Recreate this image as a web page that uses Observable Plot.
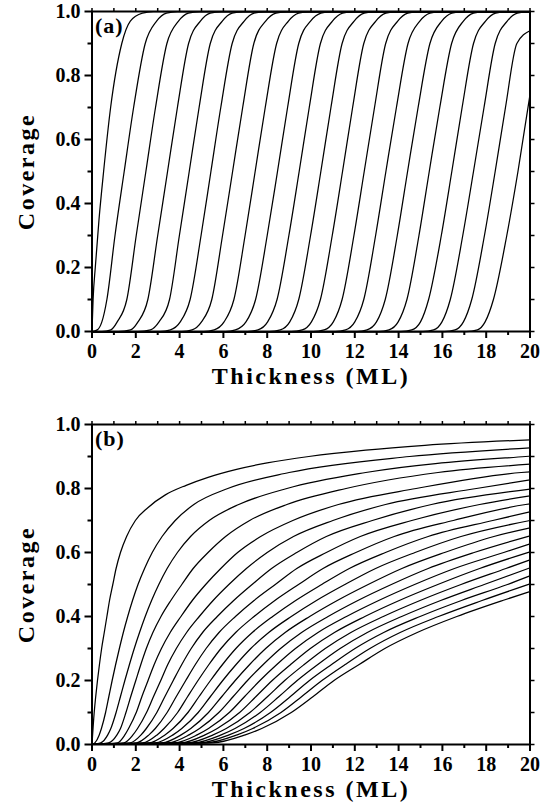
<!DOCTYPE html>
<html>
<head>
<meta charset="utf-8">
<script src="https://cdn.jsdelivr.net/npm/d3@7"></script>
<script src="https://cdn.jsdelivr.net/npm/@observablehq/plot@0.6"></script>
<style>
  html, body { margin: 0; padding: 0; background: #fff; }
  #chart svg { display: block; }
</style>
</head>
<body>
<div id="chart"></div>
<script>
// ---------- Panel (a): [thickness, coverage] points read per layer curve ----------
const layerA1  = [[0,0],[0.05,0.1],[0.15,0.2],[0.32,0.35],[0.53,0.5],[0.85,0.7],[1.36,0.9],[1.75,0.97],[2.3,0.995],[2.8,1],[20,1]];
const layerA2  = [[0,0],[0.24,0.005],[0.45,0.03],[0.68,0.1],[1.05,0.3],[1.47,0.5],[1.9,0.7],[2.43,0.9],[2.95,0.97],[3.4,0.995],[3.9,1],[20,1]];
const layerA3  = [[0,0],[0.45,0],[0.86,0.005],[1.15,0.03],[1.59,0.1],[2.02,0.3],[2.46,0.5],[2.9,0.7],[3.42,0.9],[3.95,0.97],[4.4,0.995],[4.9,1],[20,1]];
const layerA4  = [[0,0],[1.2,0],[1.76,0.005],[2.1,0.03],[2.55,0.1],[3.0,0.3],[3.45,0.5],[3.9,0.7],[4.41,0.9],[4.95,0.97],[5.4,0.995],[5.9,1],[20,1]];
const layerA5  = [[0,0],[2.1,0],[2.67,0.005],[3.06,0.03],[3.54,0.1],[3.99,0.3],[4.44,0.5],[4.89,0.7],[5.4,0.9],[5.95,0.97],[6.4,0.995],[6.9,1],[20,1]];
const layerA6  = [[0,0],[3.1,0],[3.58,0.005],[4.03,0.03],[4.48,0.1],[4.98,0.3],[5.43,0.5],[5.88,0.7],[6.4,0.9],[6.95,0.97],[7.4,0.995],[7.9,1],[20,1]];
const layerA7  = [[0,0],[4.1,0],[4.57,0.005],[5.0,0.03],[5.47,0.1],[5.96,0.3],[6.42,0.5],[6.88,0.7],[7.39,0.9],[7.93,0.97],[8.4,0.995],[8.9,1],[20,1]];
const layerA8  = [[0,0],[5.1,0],[5.58,0.005],[6.03,0.03],[6.48,0.1],[6.99,0.3],[7.45,0.5],[7.91,0.7],[8.43,0.9],[8.97,0.97],[9.43,0.995],[9.9,1],[20,1]];
const layerA9  = [[0,0],[6.1,0],[6.55,0.005],[7.03,0.03],[7.47,0.1],[8.0,0.3],[8.47,0.5],[8.93,0.7],[9.44,0.9],[9.98,0.97],[10.45,0.995],[10.9,1],[20,1]];
const layerA10 = [[0,0],[7.1,0],[7.58,0.005],[8.02,0.03],[8.45,0.1],[8.99,0.3],[9.46,0.5],[9.92,0.7],[10.43,0.9],[10.98,0.97],[11.44,0.995],[11.9,1],[20,1]];
const layerA11 = [[0,0],[8.1,0],[8.6,0.005],[9.03,0.03],[9.44,0.1],[9.98,0.3],[10.45,0.5],[10.91,0.7],[11.42,0.9],[11.97,0.97],[12.43,0.995],[12.9,1],[20,1]];
const layerA12 = [[0,0],[9.1,0],[9.6,0.005],[10.02,0.03],[10.43,0.1],[10.97,0.3],[11.44,0.5],[11.9,0.7],[12.41,0.9],[12.96,0.97],[13.42,0.995],[13.9,1],[20,1]];
const layerA13 = [[0,0],[10.1,0],[10.6,0.005],[11.02,0.03],[11.42,0.1],[11.96,0.3],[12.43,0.5],[12.9,0.7],[13.41,0.9],[13.96,0.97],[14.42,0.995],[14.9,1],[20,1]];
const layerA14 = [[0,0],[11.1,0],[11.58,0.005],[12.0,0.03],[12.41,0.1],[12.95,0.3],[13.42,0.5],[13.9,0.7],[14.43,0.9],[14.97,0.97],[15.43,0.995],[15.9,1],[20,1]];
const layerA15 = [[0,0],[12.1,0],[12.56,0.005],[12.99,0.03],[13.39,0.1],[13.94,0.3],[14.41,0.5],[14.89,0.7],[15.43,0.9],[15.97,0.97],[16.43,0.995],[16.9,1],[20,1]];
const layerA16 = [[0,0],[13.1,0],[13.56,0.005],[13.98,0.03],[14.38,0.1],[14.93,0.3],[15.4,0.5],[15.88,0.7],[16.42,0.9],[16.96,0.97],[17.42,0.995],[17.9,1],[20,1]];
const layerA17 = [[0,0],[14.1,0],[14.6,0.005],[15.0,0.03],[15.37,0.1],[15.95,0.3],[16.43,0.5],[16.9,0.7],[17.42,0.9],[17.97,0.97],[18.43,0.995],[18.9,1],[20,1]];
const layerA18 = [[0,0],[15.1,0],[15.6,0.005],[15.98,0.03],[16.36,0.1],[16.93,0.3],[17.42,0.5],[17.9,0.7],[18.41,0.9],[18.96,0.97],[19.42,0.995],[19.9,1],[20,1]];
const layerA19 = [[0,0],[16.1,0],[16.58,0.005],[16.96,0.03],[17.34,0.1],[17.92,0.3],[18.41,0.5],[18.88,0.7],[19.4,0.9],[20,0.94]];
const layerA20 = [[0,0],[17.1,0],[17.6,0.005],[17.95,0.03],[18.33,0.1],[18.94,0.3],[19.45,0.5],[20,0.74]];

// ---------- Panel (b): [thickness, coverage] points read per layer curve ----------
const layerB1  = [[0,0],[0.1,0.1],[0.17,0.15],[0.25,0.2],[0.34,0.25],[0.44,0.3],[0.56,0.35],[0.68,0.4],[0.8,0.45],[0.95,0.5],[1.1,0.55],[1.3,0.6],[1.58,0.65],[1.98,0.7],[2.55,0.74],[3.35,0.78],[4.3,0.81],[5.3,0.835],[6.6,0.86],[8.0,0.88],[9.9,0.9],[12.5,0.92],[15.2,0.935],[20,0.952]];
const layerB2  = [[0,0],[0.13,0.005],[0.33,0.03],[0.43,0.05],[0.62,0.1],[0.77,0.15],[0.92,0.2],[1.08,0.25],[1.25,0.3],[1.43,0.35],[1.63,0.4],[1.85,0.45],[2.1,0.5],[2.4,0.55],[2.75,0.6],[3.2,0.65],[3.8,0.7],[4.65,0.75],[6.2,0.8],[9.0,0.85],[14.5,0.9],[20,0.927]];
const layerB3  = [[0,0],[0.4,0.005],[0.72,0.03],[0.86,0.05],[1.1,0.1],[1.3,0.15],[1.5,0.2],[1.71,0.25],[1.93,0.3],[2.17,0.35],[2.43,0.4],[2.72,0.45],[3.05,0.5],[3.43,0.55],[3.9,0.6],[4.5,0.65],[5.35,0.7],[6.7,0.75],[8.9,0.8],[12.5,0.85],[19.8,0.9],[20,0.901]];
const layerB4  = [[0,0],[0.75,0.005],[1.14,0.03],[1.3,0.05],[1.55,0.1],[1.77,0.15],[2.0,0.2],[2.23,0.25],[2.48,0.3],[2.78,0.35],[3.15,0.4],[3.6,0.45],[4.1,0.5],[4.62,0.55],[5.3,0.6],[6.1,0.65],[7.2,0.7],[8.9,0.75],[11.6,0.8],[15.8,0.85],[20,0.876]];
const layerB5  = [[0,0],[1.16,0.005],[1.5,0.03],[1.67,0.05],[2.02,0.1],[2.28,0.15],[2.56,0.2],[2.84,0.25],[3.17,0.3],[3.57,0.35],[4.06,0.4],[4.58,0.45],[5.19,0.5],[5.88,0.55],[6.65,0.6],[7.7,0.65],[9.17,0.7],[11.25,0.75],[14.8,0.8],[19.6,0.85],[20,0.852]];
const layerB6  = [[0,0],[1.45,0.005],[1.87,0.03],[2.08,0.05],[2.49,0.1],[2.81,0.15],[3.14,0.2],[3.46,0.25],[3.85,0.3],[4.32,0.35],[4.9,0.4],[5.53,0.45],[6.25,0.5],[7.05,0.55],[8.0,0.6],[9.2,0.65],[11.0,0.7],[13.4,0.75],[17.55,0.8],[20,0.827]];
const layerB7  = [[0,0],[1.74,0.005],[2.24,0.03],[2.48,0.05],[2.96,0.1],[3.33,0.15],[3.71,0.2],[4.1,0.25],[4.53,0.3],[5.05,0.35],[5.72,0.4],[6.47,0.45],[7.31,0.5],[8.2,0.55],[9.35,0.6],[10.7,0.65],[12.8,0.7],[15.5,0.75],[20,0.798]];
const layerB8  = [[0,0],[2.03,0.005],[2.6,0.03],[2.89,0.05],[3.43,0.1],[3.85,0.15],[4.28,0.2],[4.72,0.25],[5.21,0.3],[5.8,0.35],[6.55,0.4],[7.4,0.45],[8.37,0.5],[9.35,0.55],[10.7,0.6],[12.25,0.65],[14.6,0.7],[17.7,0.75],[20,0.777]];
const layerB9  = [[0,0],[2.32,0.005],[2.97,0.03],[3.29,0.05],[3.91,0.1],[4.37,0.15],[4.84,0.2],[5.34,0.25],[5.89,0.3],[6.56,0.35],[7.4,0.4],[8.35,0.45],[9.43,0.5],[10.55,0.55],[12.05,0.6],[13.8,0.65],[16.5,0.7],[19.8,0.75],[20,0.752]];
const layerB10 = [[0,0],[2.61,0.005],[3.33,0.03],[3.7,0.05],[4.38,0.1],[4.89,0.15],[5.41,0.2],[5.96,0.25],[6.57,0.3],[7.32,0.35],[8.25,0.4],[9.3,0.45],[10.49,0.5],[11.75,0.55],[13.4,0.6],[15.35,0.65],[18.3,0.7],[20,0.727]];
const layerB11 = [[0,0],[2.9,0.005],[3.7,0.03],[4.1,0.05],[4.85,0.1],[5.41,0.15],[5.97,0.2],[6.58,0.25],[7.25,0.3],[8.07,0.35],[9.1,0.4],[10.25,0.45],[11.55,0.5],[12.95,0.55],[14.75,0.6],[16.85,0.65],[20,0.7]];
const layerB12 = [[0,0],[3.19,0.005],[4.07,0.03],[4.51,0.05],[5.32,0.1],[5.93,0.15],[6.54,0.2],[7.2,0.25],[7.93,0.3],[8.82,0.35],[9.94,0.4],[11.2,0.45],[12.61,0.5],[14.15,0.55],[16.1,0.6],[18.35,0.65],[20,0.677]];
const layerB13 = [[0,0],[3.48,0.005],[4.43,0.03],[4.91,0.05],[5.79,0.1],[6.45,0.15],[7.1,0.2],[7.82,0.25],[8.61,0.3],[9.57,0.35],[10.78,0.4],[12.14,0.45],[13.67,0.5],[15.35,0.55],[17.45,0.6],[20,0.652]];
const layerB14 = [[0,0],[3.77,0.005],[4.8,0.03],[5.32,0.05],[6.27,0.1],[6.97,0.15],[7.67,0.2],[8.44,0.25],[9.29,0.3],[10.32,0.35],[11.62,0.4],[13.09,0.45],[14.73,0.5],[16.55,0.55],[18.8,0.6],[20,0.627]];
const layerB15 = [[0,0],[4.06,0.005],[5.16,0.03],[5.72,0.05],[6.74,0.1],[7.49,0.15],[8.23,0.2],[9.07,0.25],[9.97,0.3],[11.07,0.35],[12.46,0.4],[14.03,0.45],[15.79,0.5],[17.7,0.55],[20,0.602]];
const layerB16 = [[0,0],[4.35,0.005],[5.53,0.03],[6.13,0.05],[7.21,0.1],[8.02,0.15],[8.8,0.2],[9.69,0.25],[10.65,0.3],[11.82,0.35],[13.3,0.4],[14.98,0.45],[16.85,0.5],[18.9,0.55],[20,0.577]];
const layerB17 = [[0,0],[4.64,0.005],[5.9,0.03],[6.53,0.05],[7.68,0.1],[8.54,0.15],[9.37,0.2],[10.31,0.25],[11.33,0.3],[12.57,0.35],[14.14,0.4],[15.92,0.45],[17.91,0.5],[20,0.552]];
const layerB18 = [[0,0],[4.93,0.005],[6.26,0.03],[6.94,0.05],[8.15,0.1],[9.06,0.15],[9.93,0.2],[10.94,0.25],[12.01,0.3],[13.32,0.35],[14.98,0.4],[16.87,0.45],[18.97,0.5],[20,0.527]];
const layerB19 = [[0,0],[5.22,0.005],[6.63,0.03],[7.34,0.05],[8.63,0.1],[9.58,0.15],[10.5,0.2],[11.56,0.25],[12.69,0.3],[14.07,0.35],[15.82,0.4],[17.81,0.45],[20,0.502]];
const layerB20 = [[0,0],[5.51,0.005],[7.0,0.03],[7.75,0.05],[9.1,0.1],[10.1,0.15],[11.05,0.2],[12.2,0.25],[13.37,0.3],[14.85,0.35],[16.66,0.4],[18.75,0.45],[20,0.478]];

// ---------- Axis tick values and texts ----------
const xMajorTicks = [0, 2, 4, 6, 8, 10, 12, 14, 16, 18, 20];
const xMinorTicks = [1, 3, 5, 7, 9, 11, 13, 15, 17, 19];
const xTopTicks   = [0,1,2,3,4,5,6,7,8,9,10,11,12,13,14,15,16,17,18,19,20];
const yMajorTicks = [0, 0.2, 0.4, 0.6, 0.8, 1.0];
const yMinorTicks = [0.1, 0.3, 0.5, 0.7, 0.9];
const yRightTicks = [0, 0.1, 0.2, 0.3, 0.4, 0.5, 0.6, 0.7, 0.8, 0.9, 1.0];
const xTitle = "Thickness (ML)";
const yTitle = "Coverage";
const panelLabels = ["(a)", "(b)"];

// ---------- Build tables ----------
const curvesA = [layerA1,layerA2,layerA3,layerA4,layerA5,layerA6,layerA7,layerA8,layerA9,layerA10,
                 layerA11,layerA12,layerA13,layerA14,layerA15,layerA16,layerA17,layerA18,layerA19,layerA20];
const curvesB = [layerB1,layerB2,layerB3,layerB4,layerB5,layerB6,layerB7,layerB8,layerB9,layerB10,
                 layerB11,layerB12,layerB13,layerB14,layerB15,layerB16,layerB17,layerB18,layerB19,layerB20];
const toRows = (curves) => curves.flatMap((pts, i) => pts.map(([t, v]) => ({n: i + 1, t, v})));
const rowsA = toRows(curvesA);
const rowsB = toRows(curvesB);

const FONT = "'Liberation Serif', 'Times New Roman', serif";
const fmtY = d3.format(".1f");
const blank = () => "";

function panel(rows, label, marginTop, marginBottom) {
  return Plot.plot({
    width: 547,
    height: 405,
    marginTop,
    marginBottom,
    marginLeft: 91.5,
    marginRight: 17.5,
    style: {fontFamily: FONT, fontWeight: "bold", fontSize: "20px", color: "#000", background: "#fff", overflow: "visible"},
    x: {domain: [0, 20], label: null},
    y: {domain: [0, 1], label: null},
    marks: [
      Plot.line(rows, {x: "t", y: "v", z: "n", stroke: "#000", strokeWidth: 1.25, curve: "monotone-x"}),
      Plot.frame({stroke: "#000", strokeWidth: 2}),
      Plot.axisX(xMajorTicks, {anchor: "bottom", tickSize: 7, tickPadding: 5, strokeWidth: 2, fontSize: 20, label: null}),
      Plot.axisX(xMinorTicks, {anchor: "bottom", tickSize: 4, strokeWidth: 2, tickFormat: blank, label: null}),
      Plot.axisX(xTopTicks, {anchor: "top", tickSize: 4, strokeWidth: 1.5, tickFormat: blank, label: null}),
      Plot.axisY(yMajorTicks, {anchor: "left", tickSize: 7, tickPadding: 4.5, strokeWidth: 2, fontSize: 20, tickFormat: fmtY, label: null}),
      Plot.axisY(yMinorTicks, {anchor: "left", tickSize: 4, strokeWidth: 2, tickFormat: blank, label: null}),
      Plot.axisY(yRightTicks, {anchor: "right", tickSize: 4, strokeWidth: 1.5, tickFormat: blank, label: null}),
      Plot.text([xTitle], {frameAnchor: "bottom", dy: 52, textAnchor: "middle", fontSize: 24, fontWeight: "bold", fill: "#000"}),
      Plot.text([yTitle], {frameAnchor: "left", dx: -66, rotate: -90, textAnchor: "middle", fontSize: 24, fontWeight: "bold", fill: "#000"}),
      Plot.text([label], {frameAnchor: "top-left", dx: 3, dy: 6, textAnchor: "start", lineAnchor: "top", fontSize: 22, fontWeight: "bold", fill: "#000"})
    ]
  });
}

const root = document.getElementById("chart");
const svgA = panel(rowsA, panelLabels[0], 11, 74);
const svgB = panel(rowsB, panelLabels[1], 19, 66);
root.append(svgA, svgB);

// letter spacing for the bold axis titles
d3.selectAll("#chart svg text").each(function () {
  const s = this.textContent;
  if (s === xTitle || s === yTitle) d3.select(this).style("letter-spacing", "2.5px");
  if (panelLabels.includes(s)) d3.select(this).style("letter-spacing", "1px");
});
</script>
</body>
</html>
